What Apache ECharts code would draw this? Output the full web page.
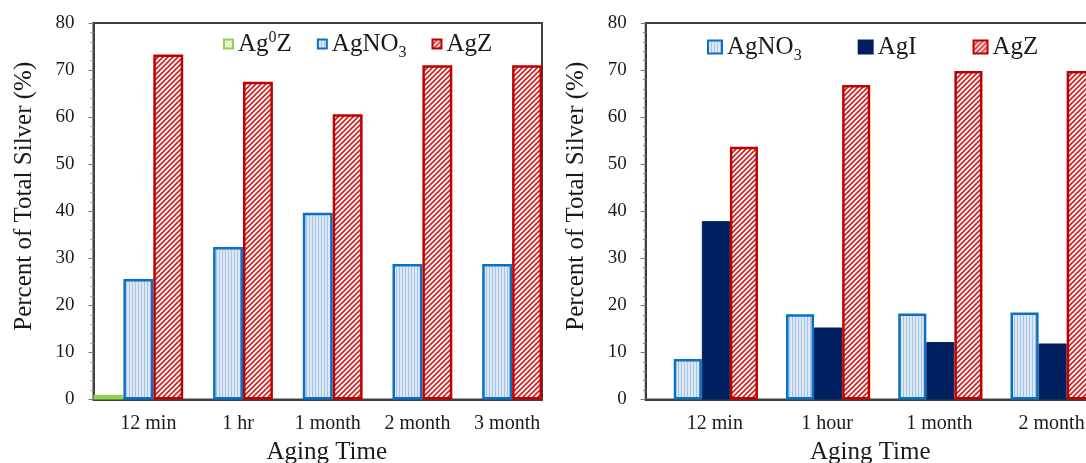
<!DOCTYPE html>
<html>
<head>
<meta charset="utf-8">
<script src="https://cdn.jsdelivr.net/npm/echarts@6/dist/echarts.min.js"></script>
<style>
html, body { margin: 0; padding: 0; background: #fff; }
#main { width: 1086px; height: 463px; }
</style>
</head>
<body>
<div id="main"></div>
<script>
// left panel
var leftCategories = ['12 min', '1 hr', '1 month', '2 month', '3 month'];
var leftAg0Z = [1.0, null, null, null, null];
var leftAgNO3 = [25.6, 32.4, 39.7, 28.8, 28.8];
var leftAgZ = [73.3, 67.5, 60.6, 71.0, 71.0];

// right panel (first slot is an empty series, as in the original)
var rightCategories = ['12 min', '1 hour', '1 month', '2 month'];
var rightEmpty = [null, null, null, null];
var rightAgNO3 = [8.6, 18.1, 18.3, 18.5];
var rightAgI = [37.9, 15.3, 12.2, 11.9];
var rightAgZ = [53.7, 66.8, 69.8, 69.8];

var yMin = 0, yMax = 80, yStep = 10;

var FONT = '"Liberation Serif", "Times New Roman", serif';
var TXT = '#1a1a1a';
var AXIS = '#404040';

function hatch(){
	var c = document.createElement('canvas');
	c.width = 5; c.height = 5;
	var g = c.getContext('2d');
	g.fillStyle = '#ffffff';
	g.fillRect(0, 0, 5, 5);
	g.strokeStyle = '#d41e1e';
	g.lineWidth = 1.6;
	g.beginPath();
	g.moveTo(-1, 6); g.lineTo(6, -1);
	g.moveTo(-3.5, 3.5); g.lineTo(3.5, -3.5);
	g.moveTo(1.5, 8.5); g.lineTo(8.5, 1.5);
	g.stroke();
	return c;
}

function vlines(){
	var c = document.createElement('canvas');
	c.width = 3; c.height = 3;
	var g = c.getContext('2d');
	g.fillStyle = '#dde8f5';
	g.fillRect(0, 0, 3, 3);
	g.fillStyle = '#a9c3e6';
	g.fillRect(0, 0, 1, 3);
	return c;
}

function dots(){
	var c = document.createElement('canvas');
	c.width = 4; c.height = 4;
	var g = c.getContext('2d');
	g.fillStyle = '#ffffff';
	g.fillRect(0, 0, 4, 4);
	g.fillStyle = '#cfe6b4';
	g.fillRect(0, 0, 2, 2);
	g.fillRect(2, 2, 2, 2);
	return c;
}

var styles = {
	'Ag0Z': { color: { image: dots(), repeat: 'repeat' }, borderColor: '#92d050', borderWidth: 2.5 },
	'AgNO3': { color: { image: vlines(), repeat: 'repeat' }, borderColor: '#0a70c6', borderWidth: 2.5 },
	'AgI': { color: '#002060', borderColor: '#002060', borderWidth: 1 },
	'AgZ': { color: { image: hatch(), repeat: 'repeat' }, borderColor: '#c00000', borderWidth: 2.5 }
};

function bar(name, data, idx){
	return {
		name: name,
		type: 'bar',
		xAxisIndex: idx,
		yAxisIndex: idx,
		data: data,
		barGap: '0%',
		barCategoryGap: '0%',
		itemStyle: styles[name],
		emphasis: { disabled: true }
	};
}

function legendText(name){
	if (name === 'Ag0Z') return 'Ag{sup|0}Z';
	if (name === 'AgNO3') return 'AgNO{sub|3}';
	return name;
}

var legendRich = {
	sup: { fontSize: 16, fontFamily: FONT, color: TXT, verticalAlign: 'top', lineHeight: 28 },
	sub: { fontSize: 16, fontFamily: FONT, color: TXT, verticalAlign: 'bottom', lineHeight: 22, padding: [0, 0, -3, 0] }
};

function xAxisOf(idx, cats, shift, nameShift){
	return {
		type: 'category',
		gridIndex: idx,
		data: cats,
		axisLine: { lineStyle: { color: AXIS, width: 2 } },
		axisTick: { show: false },
		axisLabel: { fontSize: 20, fontFamily: FONT, color: TXT, margin: 14, padding: [0, 0, 0, shift] },
		name: 'Aging Time',
		nameLocation: 'middle',
		nameGap: 40,
		nameTextStyle: { fontSize: 25, fontFamily: FONT, color: TXT, padding: [0, 0, 0, nameShift] }
	};
}

function yAxisOf(idx){
	return {
		type: 'value',
		gridIndex: idx,
		min: yMin,
		max: yMax,
		interval: yStep,
		axisLine: { show: true, lineStyle: { color: AXIS, width: 2 } },
		axisTick: { show: true, length: 5, lineStyle: { color: '#777' } },
		minorTick: { show: true, splitNumber: 5, length: 3, lineStyle: { color: '#999' } },
		splitLine: { show: false },
		axisLabel: { fontSize: 19, fontFamily: FONT, color: TXT, margin: 19 },
		name: 'Percent of Total Silver (%)',
		nameLocation: 'middle',
		nameGap: 57,
		nameTextStyle: { fontSize: 25, fontFamily: FONT, color: TXT, padding: [0, 0, 0, 30] }
	};
}

var myChart = echarts.init(document.getElementById('main'));

var option = {
	animation: false,
	backgroundColor: '#fff',
	grid: [
		{ left: 93.5, top: 23, width: 448.5, height: 376.5, show: true, borderColor: AXIS, borderWidth: 2, outerBoundsMode: 'none', containLabel: false },
		{ left: 645.7, top: 23, width: 449, height: 376.5, show: true, borderColor: AXIS, borderWidth: 2, outerBoundsMode: 'none', containLabel: false }
	],
	legend: [
		{
			data: ['Ag0Z', 'AgNO3', 'AgZ'],
			left: 223, top: 30, padding: 0,
			itemWidth: 9, itemHeight: 9, itemGap: 25,
			icon: 'rect',
			formatter: legendText,
			textStyle: { fontSize: 25, fontFamily: FONT, color: TXT, lineHeight: 28, rich: legendRich }
		},
		{
			data: ['AgNO3', 'AgI', 'AgZ'],
			left: 707, top: 33, padding: 0,
			itemWidth: 14, itemHeight: 13, itemGap: 56,
			icon: 'rect',
			formatter: legendText,
			textStyle: { fontSize: 25, fontFamily: FONT, color: TXT, lineHeight: 28, rich: legendRich }
		}
	],
	xAxis: [
		xAxisOf(0, leftCategories, 20, 18),
		xAxisOf(1, rightCategories, 26, 0)
	],
	yAxis: [yAxisOf(0), yAxisOf(1)],
	series: [
		bar('Ag0Z', leftAg0Z, 0),
		bar('AgNO3', leftAgNO3, 0),
		bar('AgZ', leftAgZ, 0),
		bar('Ag0Z', rightEmpty, 1),
		bar('AgNO3', rightAgNO3, 1),
		bar('AgI', rightAgI, 1),
		bar('AgZ', rightAgZ, 1)
	]
};

myChart.setOption(option);
</script>
</body>
</html>
